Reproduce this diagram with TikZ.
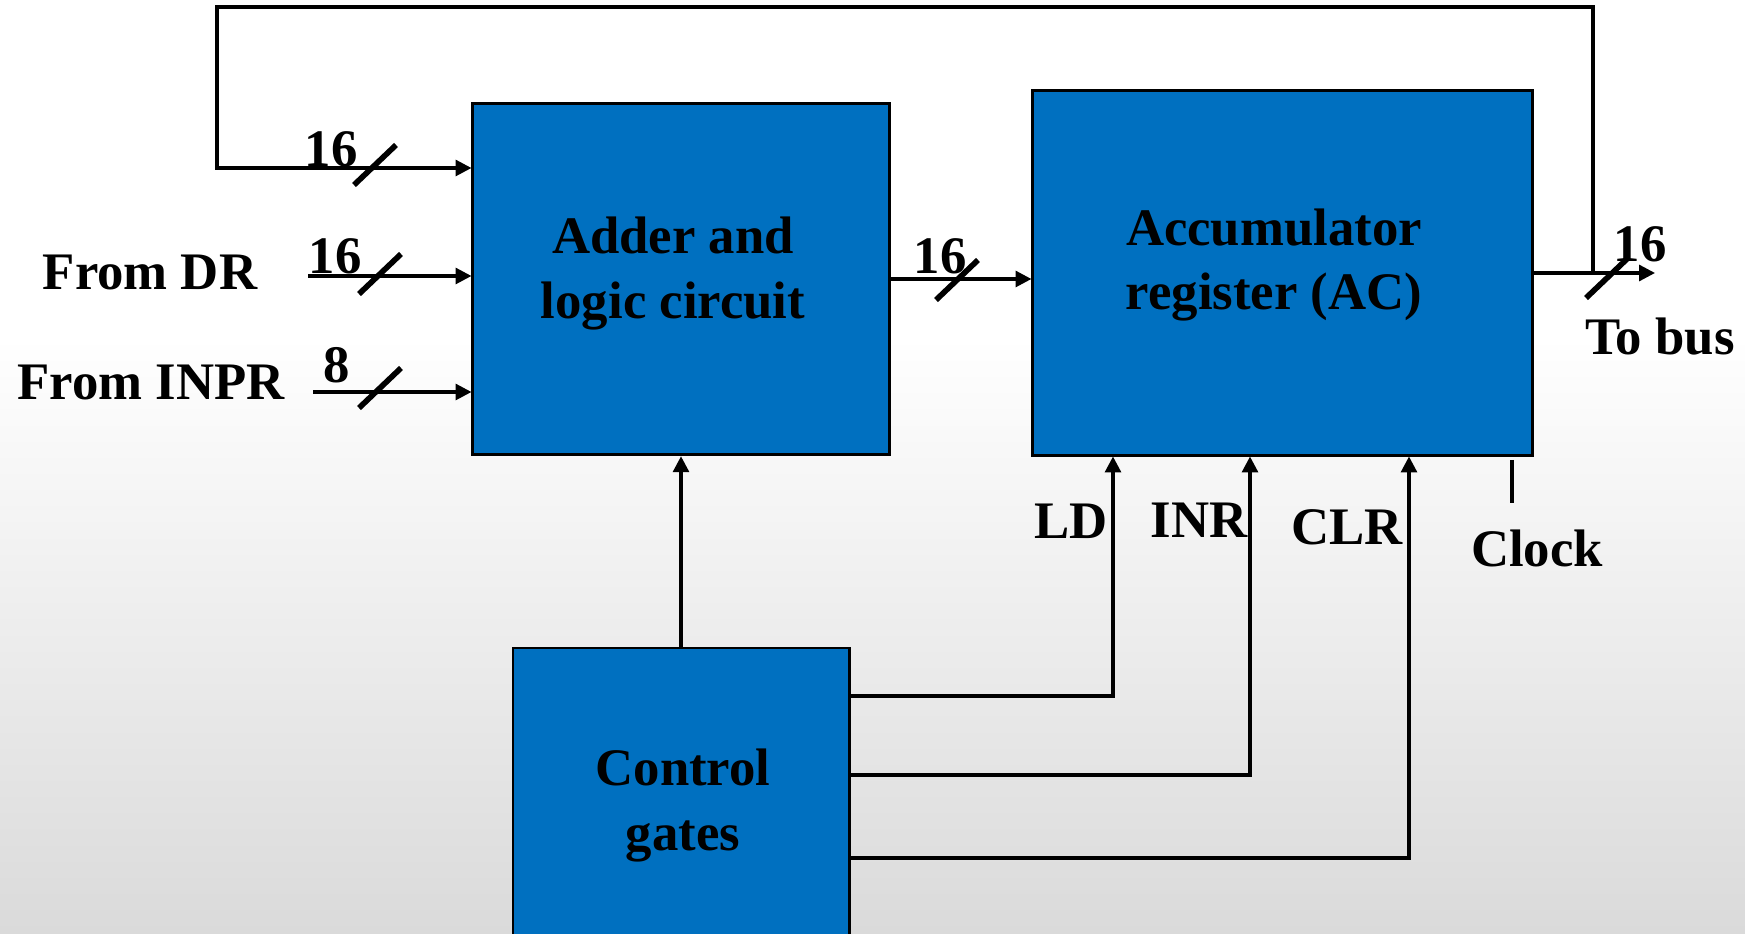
\documentclass[tikz,border=0pt]{standalone}
\usepackage{fontspec}
\setmainfont{Liberation Serif}
\usetikzlibrary{arrows.meta}
\definecolor{boxblue}{RGB}{0,112,192}
\definecolor{bggray}{RGB}{218,218,218}
\pgfdeclareverticalshading{bgfade}{100bp}{color(0bp)=(bggray); color(25bp)=(bggray); color(57bp)=(white); color(100bp)=(white)}
\tikzset{
  block/.style={draw=black, fill=boxblue, line width=0.8pt, inner sep=0pt},
  wire/.style={line width=0.9pt},
  busmark/.style={line width=1.6pt},
  lbl/.style={font=\fontsize{15}{18.3}\selectfont\bfseries, inner sep=0pt, align=center},
}

\begin{document}
\begin{tikzpicture}[x=0.01cm,y=-0.01cm,>={Triangle[length=4.5pt,width=4.5pt]}]
    \useasboundingbox (0,0) rectangle (1745,934);
    % background
    \shade[shading=bgfade] (0,0) rectangle (1745,934);
    % feedback from AC output
    \coordinate (tap) at (1593,273);
    \coordinate (busout) at (1655,273);
    \coordinate (dr) at (308,276);
    \coordinate (inpr) at (313,392);
    \coordinate (clk) at (1512,460);
    % blocks
    \node[block, minimum width=4.16cm, minimum height=3.515cm] (adder) at (681,279) {};
    \node[block, minimum width=4.99cm, minimum height=3.64cm] (ac) at (1282.5,273) {};
    \node[block, minimum width=3.36cm, minimum height=2.96cm] (ctrl) at (681,796) {};
    % wires
    \draw[wire,->] (tap) |- (217,7) |- (adder.west |- 0,168);
    \draw[wire,->] (dr) -- (adder.west |- dr);
    \draw[wire,->] (inpr) -- (adder.west |- inpr);
    \draw[wire,->] (adder.east |- 0,279) -- (ac.west |- 0,279);
    \draw[wire,->] (ac.east |- tap) -- (busout);
    \draw[wire,->] (ctrl.north) -- (adder.south);
    \draw[wire,->] (ctrl.east |- 0,696) -| (1113,0 |- ac.south);
    \draw[wire,->] (ctrl.east |- 0,775) -| (1250,0 |- ac.south);
    \draw[wire,->] (ctrl.east |- 0,858) -| (1409,0 |- ac.south);
    \draw[wire,line width=1.3pt] (clk) -- ++(0,43);
    % bus width marks
    \foreach \c in {(375,165),(380,274),(380,388),(957,280),(1607,278)}{%
      \draw[busmark] \c ++(-21,20) -- ++(42,-40);}
    % texts
    \node[lbl] (addtxt) at (673,273.5) {Adder and\\logic circuit};
    \node[lbl] (actxt) at (1274,265) {Accumulator\\register (AC)};
    \node[lbl] (ctrltxt) at (683,805.5) {Control\\gates};
    \node[lbl] (fromdr) at (150,272) {From DR};
    \node[lbl] (frominpr) at (151,382) {From INPR};
    \node[lbl] (nfb) at (331,149) {16};
    \node[lbl] (ndr) at (335,256) {16};
    \node[lbl] (ninpr) at (337,365) {8};
    \node[lbl] (nmid) at (940,256) {16};
    \node[lbl] (nout) at (1640,244) {16};
    \node[lbl] (tobus) at (1660,337) {To bus};
    \node[lbl] (ld) at (1071,521) {LD};
    \node[lbl] (inr) at (1199,520) {INR};
    \node[lbl] (clr) at (1347,527) {CLR};
    \node[lbl] (clock) at (1537,548) {Clock};
\end{tikzpicture}
\end{document}
